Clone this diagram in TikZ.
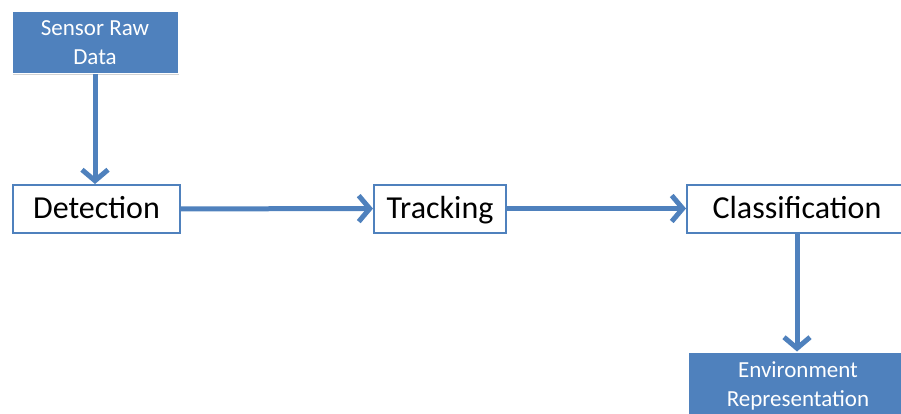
\documentclass[tikz,border=0pt]{standalone}
\usepackage{fontspec}
\setmainfont{Carlito}
\usetikzlibrary{arrows.meta,shadows}
\definecolor{boxblue}{HTML}{4F81BD}
\begin{document}
\begin{tikzpicture}[x=1pt,y=-1pt,
  stage/.style = {draw=boxblue, line width=2pt, fill=white,
    minimum height=48pt, inner sep=0pt,
    text height=24pt, text depth=5pt,
    font=\fontsize{32}{34}\selectfont},
  source/.style = {fill=boxblue, draw=white, line width=1pt,
    text=white, align=center, inner sep=0pt,
    font=\fontsize{23}{29}\selectfont,
    drop shadow={shadow xshift=1pt, shadow yshift=-1.5pt, opacity=0.35}},
  flow/.style = {draw=boxblue, line width=5pt,
    -{Straight Barb[length=11pt, width=26pt]}}]
\useasboundingbox (0,0) rectangle (901,414);
% inputs and stages
\node[source, minimum width=166pt, minimum height=62pt] (raw) at (95,43) {Sensor Raw\\Data};
\node[stage, minimum width=167pt] (det) at (96.5,209) {Detection};
\node[stage, minimum width=132pt] (trk) at (440,208.5) {Tracking};
\node[stage, minimum width=220pt] (cls) at (797,208.5) {Classification};
\node[source, minimum width=220pt, minimum height=68pt] (env) at (798,386) {Environment\\Representation};
% connectors
\draw[flow] (raw.south) -- (raw.south |- det.north);
\draw[flow] (det) -- (trk);
\draw[flow] (trk) -- (cls);
\draw[flow] (cls.south) -- (cls.south |- env.north);
\end{tikzpicture}
\end{document}
